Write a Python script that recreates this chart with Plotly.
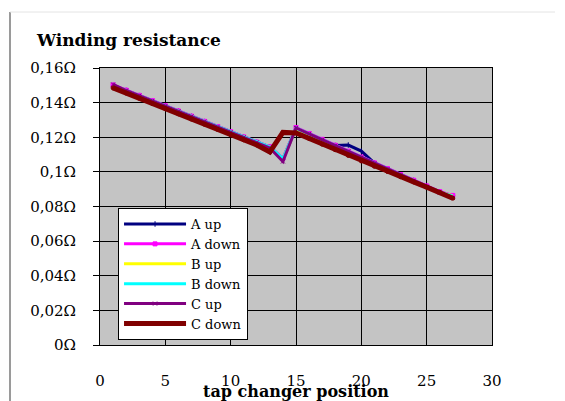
import plotly.graph_objects as go

# Tap changer positions
positions = list(range(1, 28))

# Winding resistance per phase and direction (ohm)
a_up = [0.150, 0.147, 0.144, 0.141, 0.138, 0.135, 0.132, 0.129, 0.126, 0.123,
        0.120, 0.117, 0.1143, 0.1075, 0.1252, 0.1218, 0.1184, 0.1152, 0.1155, 0.1120,
        0.1050, 0.1017, 0.0983, 0.0950, 0.0917, 0.0884, 0.0860]
a_down = [0.1502, 0.1472, 0.1442, 0.1412, 0.1382, 0.1352, 0.1322, 0.1292, 0.1262, 0.1232,
          0.1202, 0.1172, 0.1145, 0.1078, 0.1256, 0.1222, 0.1188, 0.1154, 0.1120, 0.1086,
          0.1052, 0.1019, 0.0985, 0.0952, 0.0919, 0.0886, 0.0864]
b_up = [0.1498, 0.1468, 0.1438, 0.1408, 0.1378, 0.1348, 0.1318, 0.1288, 0.1258, 0.1228,
        0.1198, 0.1168, 0.1142, 0.1074, 0.1250, 0.1216, 0.1182, 0.1148, 0.1114, 0.1080,
        0.1046, 0.1013, 0.0980, 0.0947, 0.0914, 0.0881, 0.0862]
b_down = [0.1500, 0.1470, 0.1440, 0.1410, 0.1380, 0.1350, 0.1320, 0.1290, 0.1260, 0.1230,
          0.1200, 0.1170, 0.1144, 0.1076, 0.1253, 0.1219, 0.1185, 0.1151, 0.1117, 0.1083,
          0.1049, 0.1016, 0.0982, 0.0949, 0.0916, 0.0883, 0.0860]
c_up = [0.1505, 0.1470, 0.1440, 0.1410, 0.1380, 0.1350, 0.1320, 0.1290, 0.1260, 0.1230,
        0.1200, 0.1170, 0.1138, 0.1060, 0.1254, 0.1220, 0.1186, 0.1152, 0.1118, 0.1084,
        0.1050, 0.1016, 0.0982, 0.0948, 0.0914, 0.0880, 0.0850]
c_down = [0.1485, 0.1455, 0.1425, 0.1395, 0.1365, 0.1335, 0.1305, 0.1275, 0.1245, 0.1215,
          0.1185, 0.1155, 0.1115, 0.1228, 0.1225, 0.1193, 0.1160, 0.1128, 0.1095, 0.1063,
          0.1032, 0.1002, 0.0972, 0.0942, 0.0912, 0.0882, 0.0848]

series = [
    ("A up", a_up, "#000080", "line-ns", 3),
    ("A down", a_down, "#FF00FF", "square", 3),
    ("B up", b_up, "#FFFF00", None, 3),
    ("B down", b_down, "#00FFFF", None, 3),
    ("C up", c_up, "#800080", "x-thin", 3),
    ("C down", c_down, "#800000", "circle", 5),
]

y_ticks = [0, 0.02, 0.04, 0.06, 0.08, 0.10, 0.12, 0.14, 0.16]
y_labels = ["0\u03a9", "0,02\u03a9", "0,04\u03a9", "0,06\u03a9", "0,08\u03a9",
            "0,1\u03a9", "0,12\u03a9", "0,14\u03a9", "0,16\u03a9"]
x_ticks = [0, 5, 10, 15, 20, 25, 30]
x_range = [0, 30]

SERIF = "DejaVu Serif"

fig = go.Figure()
for name, vals, color, symbol, width in series:
    mode = "lines+markers" if symbol else "lines"
    marker = dict(symbol=symbol, size=4, color=color,
                  line=dict(color=color, width=1)) if symbol else None
    fig.add_trace(go.Scatter(
        x=positions, y=vals, name=name, mode=mode,
        line=dict(color=color, width=width),
        marker=marker,
    ))

fig.update_layout(
    width=565, height=401,
    margin=dict(l=100, r=73, t=68, b=56),
    paper_bgcolor="white",
    plot_bgcolor="#c4c4c4",
    font=dict(family=SERIF, size=15, color="black"),
    title=dict(text="<b>Winding resistance</b>", x=37 / 565, xanchor="left",
               y=1 - 40 / 401, yanchor="middle",
               font=dict(family=SERIF, size=17, color="black")),
    showlegend=True,
    legend=dict(
        x=0.046, y=0.4945, xanchor="left", yanchor="top",
        bgcolor="white", bordercolor="black", borderwidth=1,
        font=dict(family=SERIF, size=13, color="black"),
        tracegroupgap=0, itemwidth=62,
    ),
    # main x axis carries the labels; its own ticks are invisible spacers
    xaxis=dict(
        range=x_range, tickvals=x_ticks, showgrid=True, gridcolor="black",
        gridwidth=1, zeroline=False, showline=True, linecolor="black",
        ticks="outside", ticklen=22, tickcolor="rgba(0,0,0,0)",
        tickfont=dict(family=SERIF, size=15), automargin=False,
        title=dict(text="<b>tap changer position</b>", standoff=0,
                   font=dict(family=SERIF, size=16)),
        mirror=True,
    ),
    # overlay axis draws the short visible tick marks
    xaxis2=dict(
        range=x_range, tickvals=x_ticks, overlaying="x", side="bottom",
        showgrid=False, zeroline=False, showline=False, showticklabels=False,
        ticks="outside", ticklen=5, tickcolor="black", automargin=False,
    ),
    yaxis=dict(
        range=[0, 0.16], tickvals=y_ticks, ticktext=y_labels, showgrid=True,
        gridcolor="black", gridwidth=1, zeroline=False, showline=True,
        linecolor="black", ticks="outside", ticklen=6, tickcolor="black",
        ticklabelposition="outside", automargin=False,
        tickfont=dict(family=SERIF, size=15), ticklabelstandoff=14,
        mirror=True,
    ),
    shapes=[
        # chart-area frame: left edge and faint top edge
        dict(type="line", xref="paper", yref="paper",
             x0=-90 / 392, x1=-90 / 392, y0=-56 / 277, y1=(345 - 12) / 277,
             line=dict(color="#9a9a9a", width=2)),
        dict(type="line", xref="paper", yref="paper",
             x0=-90 / 392, x1=(555 - 100) / 392, y0=(345 - 12) / 277, y1=(345 - 12) / 277,
             line=dict(color="#e4e4e4", width=1)),
    ],
)

fig.write_html("out.html")
